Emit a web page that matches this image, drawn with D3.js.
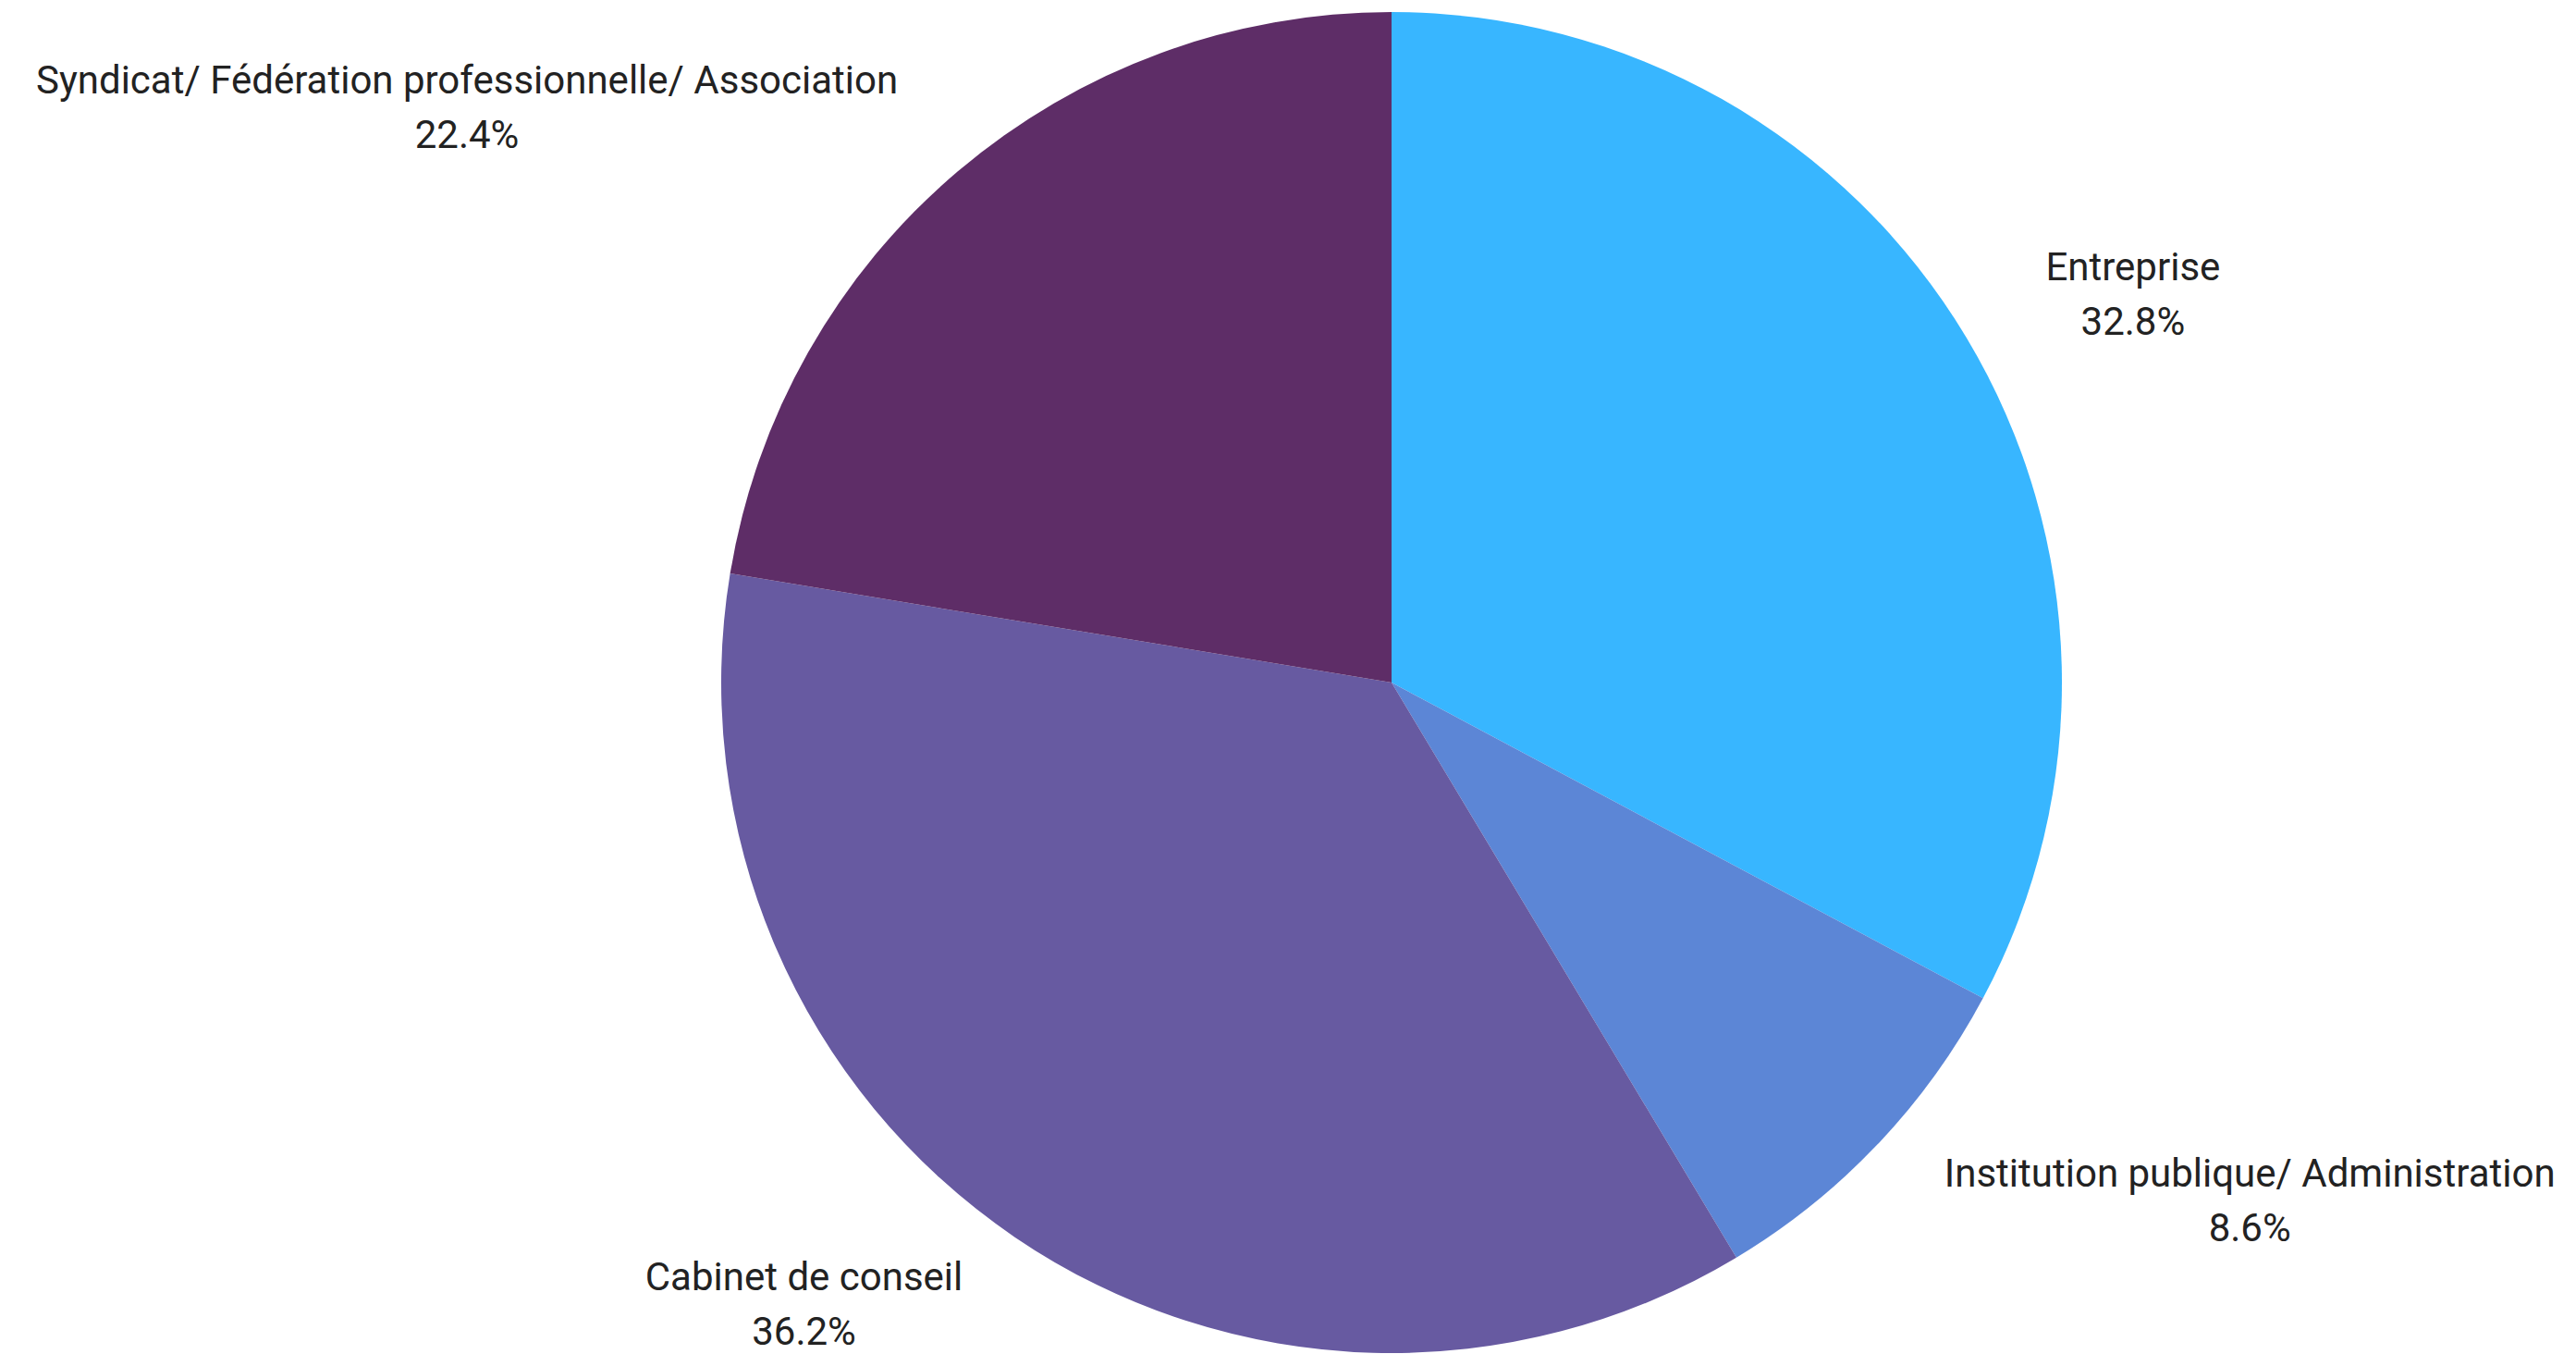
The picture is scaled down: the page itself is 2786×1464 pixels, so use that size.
<!DOCTYPE html>
<html>
<head>
<meta charset="utf-8">
<script src="https://cdn.jsdelivr.net/npm/d3@7"></script>
<style>
  html, body { margin: 0; padding: 0; background: #ffffff; }
  svg { display: block; }
  text { font-family: Roboto, "Noto Sans", sans-serif; }
</style>
</head>
<body>
<svg id="chart" width="2786" height="1464"></svg>
<script>
const categories = ["Entreprise", "Institution publique/ Administration", "Cabinet de conseil", "Syndicat/ Fédération professionnelle/ Association"];
const values = [32.8, 8.6, 36.2, 22.4];
const valueLabels = ["32.8%", "8.6%", "36.2%", "22.4%"];
const colors = ["#38b6ff", "#5c86d6", "#675aa1", "#5e2d67"];

const W = 2786, H = 1464;
const cx = 1505, cy = 738, R = 725;
const labelRx = 825, labelRy = 814;
const fontSize = 42, lineGap = 59;

const data = categories.map((c, i) => ({ name: c, value: values[i], label: valueLabels[i], color: colors[i] }));

const svg = d3.select("#chart");
const g = svg.append("g").attr("transform", `translate(${cx},${cy})`);

const pie = d3.pie().value(d => d.value).sort(null);
const arc = d3.arc().innerRadius(0).outerRadius(R);
const arcs = pie(data);

g.selectAll("path.slice")
  .data(arcs)
  .join("path")
  .attr("class", "slice")
  .attr("d", arc)
  .attr("fill", d => d.data.color);

g.selectAll("g.label")
  .data(arcs)
  .join("g")
  .attr("class", "label")
  .each(function(d) {
    const mid = (d.startAngle + d.endAngle) / 2;
    const x = Math.sin(mid) * labelRx;
    const y = -Math.cos(mid) * labelRy;
    const sel = d3.select(this);
    const t1 = sel.append("text").text(d.data.name)
      .attr("font-size", fontSize).attr("fill", "#222222").attr("text-anchor", "middle");
    const t2 = sel.append("text").text(d.data.label)
      .attr("font-size", fontSize).attr("fill", "#222222").attr("text-anchor", "middle");
    const w = Math.max(t1.node().getComputedTextLength(), t2.node().getComputedTextLength());
    const centerX = x >= 0 ? x + w / 2 : x - w / 2;
    t1.attr("x", centerX).attr("y", y - 16);
    t2.attr("x", centerX).attr("y", y - 16 + lineGap);
  });
</script>
</body>
</html>
